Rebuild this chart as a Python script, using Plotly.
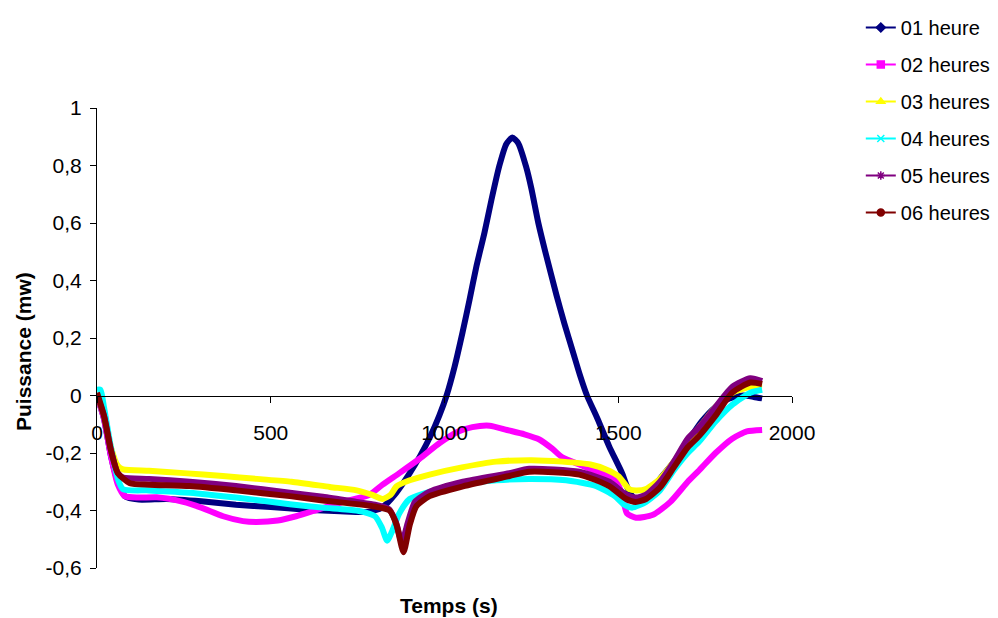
import plotly.graph_objects as go

# ---------------- data ----------------
series_names = ["01 heure", "02 heures", "03 heures", "04 heures", "05 heures", "06 heures"]
series_colors = ["#000080", "#FF00FF", "#FFFF00", "#00FFFF", "#800080", "#800000"]
series_symbols = ["diamond", "square", "triangle-up", "x-thin-open", "asterisk-open", "circle"]

x_01 = [0, 20, 40, 60, 80, 120, 200, 300, 400, 500, 600, 700, 780, 820, 860, 900, 930, 960, 985,
        1006, 1029, 1052, 1072, 1092, 1115, 1135, 1158, 1178, 1195, 1212, 1235, 1250, 1270, 1290,
        1322, 1345, 1370, 1390, 1410, 1440, 1474, 1511, 1530, 1550, 1580, 1620, 1667, 1700, 1740,
        1780, 1820, 1860, 1890, 1914]
y_01 = [0, -0.08, -0.21, -0.30, -0.35, -0.362, -0.36, -0.368, -0.38, -0.388, -0.397, -0.403, -0.405,
        -0.39, -0.34, -0.27, -0.21, -0.14, -0.07,
        0.0, 0.10, 0.22, 0.333, 0.45, 0.566, 0.68, 0.80, 0.875, 0.897, 0.878, 0.795, 0.72, 0.60, 0.50,
        0.35, 0.25, 0.15, 0.07, 0.0, -0.08, -0.177, -0.27, -0.33, -0.36, -0.35, -0.29, -0.22, -0.16, -0.09,
        -0.04, -0.01, 0.0, -0.005, -0.01]

x_02 = [0, 20, 40, 60, 80, 120, 172, 248, 300, 363, 420, 459, 520, 573, 640, 708, 784, 822, 870, 928,
        986, 1040, 1080, 1130, 1180, 1230, 1273, 1310, 1339, 1388, 1440, 1490, 1510, 1525, 1551, 1600,
        1650, 1700, 1733, 1780, 1828, 1870, 1914]
y_02 = [0, -0.08, -0.21, -0.31, -0.35, -0.355, -0.354, -0.37, -0.39, -0.42, -0.437, -0.44, -0.435, -0.42,
        -0.395, -0.37, -0.345, -0.31, -0.27, -0.22, -0.165, -0.125, -0.11, -0.105, -0.12, -0.135, -0.153,
        -0.185, -0.215, -0.24, -0.265, -0.29, -0.34, -0.41, -0.425, -0.415, -0.37, -0.30, -0.26, -0.20,
        -0.15, -0.125, -0.12]

x_03 = [0, 20, 40, 60, 75, 150, 250, 362, 460, 560, 670, 747, 790, 822, 845, 862, 900, 957, 1050, 1149,
        1250, 1339, 1420, 1465, 1500, 1532, 1551, 1580, 1620, 1660, 1700, 1740, 1780, 1830, 1880, 1914]
y_03 = [0, -0.07, -0.18, -0.245, -0.257, -0.262, -0.27, -0.28, -0.29, -0.30, -0.318, -0.33, -0.345, -0.36,
        -0.345, -0.316, -0.295, -0.275, -0.25, -0.23, -0.225, -0.23, -0.24, -0.257, -0.28, -0.326, -0.33,
        -0.325, -0.29, -0.23, -0.16, -0.10, -0.04, 0.01, 0.03, 0.03]

x_04 = [0, 10, 20, 40, 60, 75, 150, 267, 400, 555, 650, 747, 800, 820, 835, 850, 870, 900, 957, 1050,
        1150, 1244, 1350, 1437, 1490, 1517, 1540, 1580, 1620, 1660, 1700, 1733, 1780, 1830, 1880, 1914]
y_04 = [0.02, 0.02, -0.04, -0.18, -0.29, -0.326, -0.33, -0.338, -0.355, -0.378, -0.39, -0.40, -0.42,
        -0.46, -0.505, -0.47, -0.41, -0.36, -0.335, -0.31, -0.295, -0.29, -0.295, -0.315, -0.35, -0.38,
        -0.39, -0.37, -0.33, -0.26, -0.20, -0.16, -0.09, -0.03, 0.01, 0.02]

x_05 = [0, 20, 40, 60, 75, 150, 267, 400, 555, 650, 747, 800, 840, 860, 877, 895, 915, 957, 1053, 1187,
        1244, 1388, 1474, 1523, 1550, 1580, 1620, 1660, 1700, 1733, 1780, 1828, 1880, 1914]
y_05 = [0, -0.07, -0.19, -0.27, -0.285, -0.29, -0.30, -0.315, -0.338, -0.352, -0.37, -0.38, -0.395,
        -0.44, -0.51, -0.44, -0.37, -0.335, -0.30, -0.27, -0.255, -0.265, -0.30, -0.345, -0.355, -0.345,
        -0.30, -0.23, -0.15, -0.11, -0.04, 0.03, 0.06, 0.05]

x_06 = [0, 20, 40, 60, 95, 150, 267, 400, 555, 650, 793, 842, 862, 882, 900, 919, 957, 1053, 1187, 1244,
        1388, 1474, 1523, 1550, 1580, 1620, 1660, 1700, 1733, 1780, 1828, 1880, 1914]
y_06 = [0.01, -0.07, -0.19, -0.27, -0.305, -0.31, -0.315, -0.33, -0.35, -0.365, -0.385, -0.40, -0.45,
        -0.545, -0.45, -0.385, -0.35, -0.316, -0.28, -0.265, -0.275, -0.315, -0.36, -0.37, -0.36, -0.32,
        -0.25, -0.18, -0.14, -0.07, 0.01, 0.045, 0.04]

x_tick_vals = [0, 500, 1000, 1500, 2000]
x_tick_text = ["0", "500", "1000", "1500", "2000"]
y_tick_vals = [-0.6, -0.4, -0.2, 0, 0.2, 0.4, 0.6, 0.8, 1]
y_tick_text = ["-0,6", "-0,4", "-0,2", "0", "0,2", "0,4", "0,6", "0,8", "1"]

xs = [x_01, x_02, x_03, x_04, x_05, x_06]
ys = [y_01, y_02, y_03, y_04, y_05, y_06]

FONT = "Liberation Sans, Arial, sans-serif"

fig = go.Figure()
for name, color, xv, yv in zip(series_names, series_colors, xs, ys):
    fig.add_trace(go.Scatter(
        x=xv, y=yv, mode="lines", name=name, showlegend=False,
        line=dict(color=color, width=6, shape="spline", smoothing=0.6),
        hoverinfo="skip",
    ))
# legend entries (thin line with marker, like the original)
for name, color, sym in zip(series_names, series_colors, series_symbols):
    fig.add_trace(go.Scatter(
        x=[None], y=[None], mode="lines+markers", name=name, legendgroup=name,
        line=dict(color=color, width=2),
        marker=dict(color=color, symbol=sym, size=7, line=dict(color=color, width=1.5)),
    ))

# page body has an 8px margin, so the figure is sized to fit the 998x618 window
fig.update_layout(
    width=990, height=610,
    paper_bgcolor="white", plot_bgcolor="white",
    margin=dict(l=89, r=206, t=100, b=50, autoexpand=False),
    font=dict(family=FONT, size=21, color="black"),
    showlegend=True,
    legend=dict(x=1.099, xanchor="left", y=1.2174, yanchor="top",
                font=dict(size=20, family=FONT), tracegroupgap=8,
                bgcolor="rgba(0,0,0,0)", itemwidth=30),
    xaxis=dict(range=[0, 2000], anchor="free", position=0.375, automargin=False,
               tickvals=x_tick_vals, ticktext=x_tick_text,
               ticks="outside", ticklen=6, tickcolor="black",
               showline=True, linecolor="black", linewidth=1,
               showgrid=False, zeroline=False, ticklabelstandoff=12,
               tickfont=dict(size=21)),
    yaxis=dict(range=[-0.6, 1], domain=[0, 1], automargin=False,
               tickvals=y_tick_vals, ticktext=y_tick_text,
               ticks="outside", ticklen=6, tickcolor="black",
               showline=True, linecolor="black", linewidth=1,
               showgrid=False, zeroline=False, ticklabelstandoff=4,
               tickfont=dict(size=21)),
    annotations=[
        dict(text="<b>Temps (s)</b>", x=0.507, y=-0.0826, xref="paper", yref="paper",
             showarrow=False, font=dict(size=21), xanchor="center", yanchor="middle"),
        dict(text="<b>Puissance (mw)</b>", x=(24 - 97) / 695, y=0.4696, xref="paper", yref="paper",
             showarrow=False, textangle=-90, font=dict(size=21), xanchor="center", yanchor="middle"),
    ],
)

fig.write_html("out.html")
